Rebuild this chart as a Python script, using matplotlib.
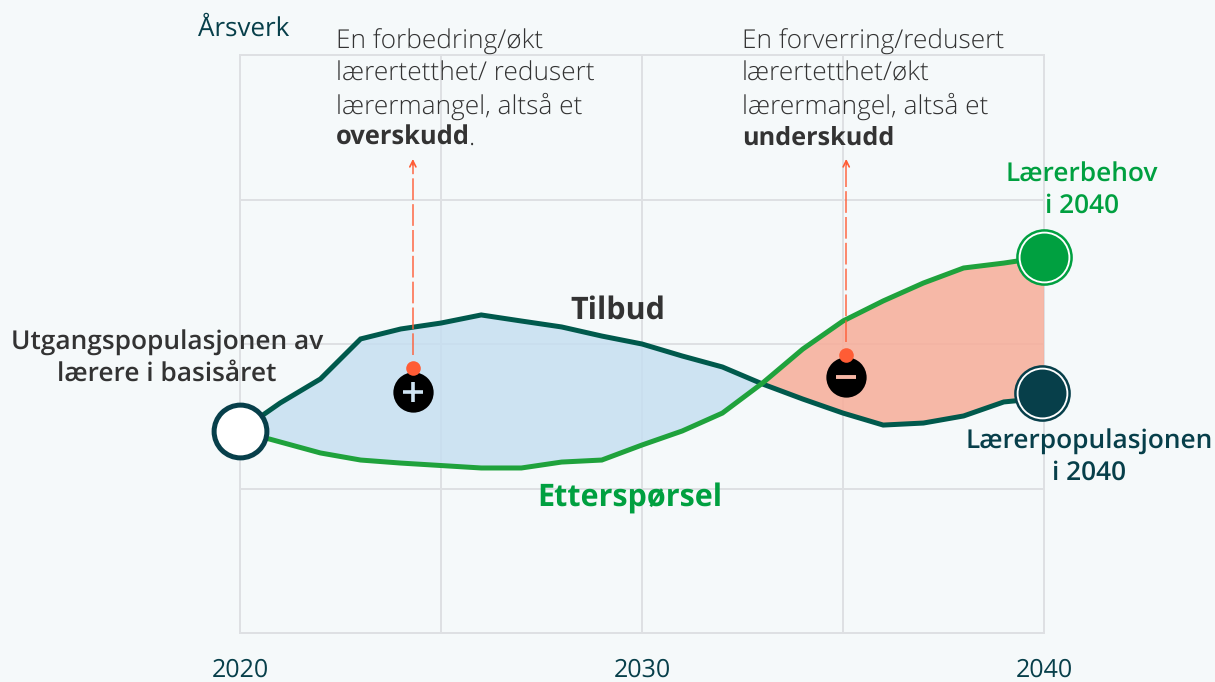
#!/usr/bin/env python3
import matplotlib
matplotlib.use('Agg')
import numpy as np
import matplotlib.pyplot as plt

plt.rcParams['font.family'] = ['Open Sans', 'DejaVu Sans']
plt.rcParams['text.hinting'] = 'no_hinting'

years = [2020, 2021, 2022, 2023, 2024, 2025, 2026, 2027, 2028, 2029, 2030,
         2031, 2032, 2033, 2034, 2035, 2036, 2037, 2038, 2039, 2040]
tilbud = [139.8, 159.2, 175.8, 203.5, 210.4, 214.5, 220.1, 215.9, 211.8, 205.5, 200.0,
          191.7, 184.1, 172.3, 161.9, 152.2, 143.9, 145.3, 150.2, 159.9, 162.6]
ettersporsel = [139.8, 132.2, 124.6, 119.7, 117.6, 115.9, 114.2, 114.2, 118.3, 119.7, 130.1,
                139.8, 152.2, 173.0, 196.5, 215.9, 229.8, 242.2, 252.6, 256.0, 260.2]
x_grid = [2020, 2025, 2030, 2035, 2040]
x_labels = ['2020', '', '2030', '', '2040']
y_grid = [0, 100, 200, 300, 400]

BG = '#F5F9FA'
GRID = '#DEE0E3'
DARK = '#00594C'
TEAL = '#073F4A'
GREEN = '#1FA23C'
SOLID_GREEN = '#00A040'
TEXT = '#333333'
ORANGE = '#FF5C35'

W, H = 1215, 682
fig = plt.figure(figsize=(W / 100, H / 100), dpi=100, facecolor=BG)
ax = fig.add_axes([240 / W, 1 - 633 / H, 804 / W, 578 / H], facecolor=BG)


def txt(px, py, s, **kw):
    kw.setdefault('va', 'center')
    return fig.text(px / W, 1 - py / H, s, **kw)


ax.set_xlim(2020, 2040)
ax.set_ylim(0, 400)
ax.set_xticks(x_grid, x_labels)
ax.set_yticks(y_grid, [''] * 5)
ax.tick_params(length=0, pad=18, labelsize=18, labelcolor=TEAL)
ax.grid(True, color=GRID, linewidth=1.4, zorder=0, clip_on=False)
ax.set_axisbelow(True)
for s in ax.spines.values():
    s.set_visible(False)

xs = np.array(years, dtype=float)
t = np.array(tilbud)
e = np.array(ettersporsel)
ax.fill_between(xs, e, t, where=t >= e, interpolate=True, color='#C4DEF1', alpha=0.8, lw=0, zorder=1)
ax.fill_between(xs, e, t, where=e >= t, interpolate=True, color='#F7AD99', alpha=0.85, lw=0, zorder=1)
ax.plot(years, tilbud, color=DARK, lw=3.6, solid_joinstyle='miter', zorder=3)
ax.plot(years, ettersporsel, color=GREEN, lw=3.6, solid_joinstyle='miter', zorder=3)

# dashed arrows from the +/- markers
for ax_x, y0 in [(2024.3, 183.4), (2035.08, 192.4)]:
    ax.plot([ax_x, ax_x], [y0 + 9, 326], color=ORANGE, lw=1.2, dashes=(13, 2.5), alpha=0.85, zorder=4,
            clip_on=False)
    ax.annotate('', xy=(ax_x, 330), xytext=(ax_x, 322), zorder=4,
                arrowprops=dict(arrowstyle='->', color=ORANGE, lw=1.2, mutation_scale=11))
    ax.plot([ax_x], [y0], 'o', color=ORANGE, ms=10.5, mew=0, zorder=6)

ax.plot([2024.3], [166.5], 'o', color='black', ms=29, mew=0, zorder=5)
ax.plot([2035.08], [177], 'o', color='black', ms=29, mew=0, zorder=5)
ax.plot([2024.3], [166.5], '+', color='#CFE4F3', ms=15, mew=2.6, zorder=6)
ax.plot([2035.08], [177], '_', color='#F7B7A6', ms=14, mew=2.8, zorder=6)

# end point circles
ax.plot([2020], [139.8], 'o', ms=38, mfc='white', mec=TEAL, mew=3.6, clip_on=False, zorder=7)
ax.plot([2040], [260.2], 'o', ms=39, mfc='white', mec=SOLID_GREEN, mew=1.8, clip_on=False, zorder=7)
ax.plot([2040], [260.2], 'o', ms=34.5, mfc=SOLID_GREEN, mew=0, clip_on=False, zorder=8)
ax.plot([2039.95], [166], 'o', ms=39, mfc='white', mec=TEAL, mew=1.8, clip_on=False, zorder=7)
ax.plot([2039.95], [166], 'o', ms=34.5, mfc=TEAL, mew=0, clip_on=False, zorder=8)

# texts
txt(198, 29, 'Årsverk', fontsize=18.7, color=TEAL)
for i, line in enumerate(['En forbedring/økt', 'lærertetthet/ redusert', 'lærermangel, altså et']):
    txt(336, 42 + i * 32, line, fontsize=18.9, color=TEXT, weight='light')
txt(336, 138, 'overskudd', fontsize=18.4, color=TEXT, weight='bold')
txt(469, 138, '.', fontsize=18.9, color=TEXT, weight='light')
for i, line in enumerate(['En forverring/redusert', 'lærertetthet/økt', 'lærermangel, altså et']):
    txt(742, 42 + i * 32, line, fontsize=18.9, color=TEXT, weight='light')
txt(742, 138, 'underskudd', fontsize=18.2, color=TEXT, weight='bold')

txt(618, 311, 'Tilbud', fontsize=22, color=TEXT, weight='bold', ha='center')
txt(630, 498, 'Etterspørsel', fontsize=22, color=SOLID_GREEN, weight='bold', ha='center')
txt(167, 343, 'Utgangspopulasjonen av', fontsize=18.9, color=TEXT, weight='semibold', ha='center')
txt(167, 374, 'lærere i basisåret', fontsize=18.9, color=TEXT, weight='semibold', ha='center')
txt(1082, 175, 'Lærerbehov', fontsize=18.9, color=SOLID_GREEN, weight='semibold', ha='center')
txt(1082, 206, 'i 2040', fontsize=18.9, color=SOLID_GREEN, weight='semibold', ha='center')
txt(1089, 442, 'Lærerpopulasjonen', fontsize=18.9, color=TEAL, weight='semibold', ha='center')
txt(1089, 473, 'i 2040', fontsize=18.9, color=TEAL, weight='semibold', ha='center')

fig.savefig('out.png', dpi=100, facecolor=BG)
